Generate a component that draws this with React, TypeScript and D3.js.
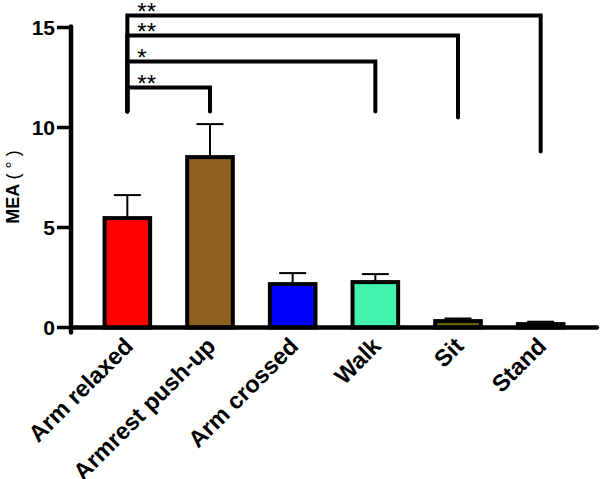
import React from "react";
import * as d3 from "d3";

const categories = ["Arm relaxed", "Armrest push-up", "Arm crossed", "Walk", "Sit", "Stand"];
const means = [5.47, 8.52, 2.17, 2.27, 0.32, 0.17];
const errors = [1.15, 1.65, 0.55, 0.4, 0.13, 0.12];
const fills = ["#FF0000", "#8F6020", "#0000FF", "#44F2B0", "#6B6B10", "#7030A0"];
const yTicks = [0, 5, 10, 15];
const comparisons = [
  { from: 0, to: 1, y: 12.0, drop: 10.8, label: "**" },
  { from: 0, to: 3, y: 13.3, drop: 10.8, label: "*" },
  { from: 0, to: 4, y: 14.6, drop: 10.5, label: "**" },
  { from: 0, to: 5, y: 15.6, drop: 8.8, label: "**" },
];

const W = 600;
const H = 479;

export default function App() {
  const x = d3.scaleBand<string>().domain(categories).range([86, 582]).paddingInner(0.4).paddingOuter(0.2);
  const y = d3.scaleLinear().domain([0, 15]).range([327.5, 27.5]);
  const font = "'Liberation Sans', Arial, sans-serif";
  const cx = (i: number) => (x(categories[i]) as number) + x.bandwidth() / 2;
  const axisX = 71;
  return (
    <svg width={W} height={H} style={{ position: "absolute", left: 0, top: 0 }} fontFamily={font}>
      <rect width={W} height={H} fill="#fff" />
      {/* bars */}
      {categories.map((c, i) => {
        const x0 = x(c) as number;
        const bw = x.bandwidth();
        const top = y(means[i]);
        const et = y(means[i] + errors[i]);
        const xc = x0 + bw / 2;
        return (
          <g key={c}>
            <line x1={xc} x2={xc} y1={top} y2={et} stroke="#000" strokeWidth={2} />
            <line x1={xc - 13.5} x2={xc + 13.5} y1={et} y2={et} stroke="#000" strokeWidth={2} />
            <rect x={x0 + 2} y={top} width={bw - 4} height={y(0) - top} fill={fills[i]} stroke="#000" strokeWidth={4} />
          </g>
        );
      })}
      {/* axes */}
      <line x1={axisX} x2={axisX} y1={y(15) - 1} y2={y(0) + 5} stroke="#000" strokeWidth={4.5} strokeLinecap="round" />
      <line x1={axisX} x2={597} y1={y(0)} y2={y(0)} stroke="#000" strokeWidth={4.5} strokeLinecap="round" />
      {yTicks.map((t) => (
        <g key={t}>
          <line x1={57} x2={axisX} y1={y(t)} y2={y(t)} stroke="#000" strokeWidth={3.5} />
          <text x={55} y={y(t)} dy="0.36em" textAnchor="end" fontSize={21} fontWeight="bold">
            {t}
          </text>
        </g>
      ))}
      <text transform={`translate(19,187) rotate(-90)`} textAnchor="middle" fontSize={18} fontWeight="bold">
        MEA <tspan fontWeight="normal">( ° )</tspan>
      </text>
      {categories.map((c, i) => (
        <text
          key={c}
          transform={`translate(${cx(i) + 7},${y(0) + 20}) rotate(-45)`}
          textAnchor="end"
          fontSize={23.5}
          fontWeight="bold"
        >
          {c}
        </text>
      ))}
      {/* significance brackets */}
      {comparisons.map((k, j) => {
        const x1 = cx(k.from);
        const x2 = cx(k.to);
        const yy = y(k.y);
        return (
          <g key={j}>
            <path
              d={`M${x1},${y(10.8)}V${yy}H${x2}V${y(k.drop)}`}
              fill="none"
              stroke="#000"
              strokeWidth={4}
              strokeLinecap="round"
            />
            <text x={x1 + 10} y={yy + 4} fontSize={24}>
              {k.label}
            </text>
          </g>
        );
      })}
    </svg>
  );
}
